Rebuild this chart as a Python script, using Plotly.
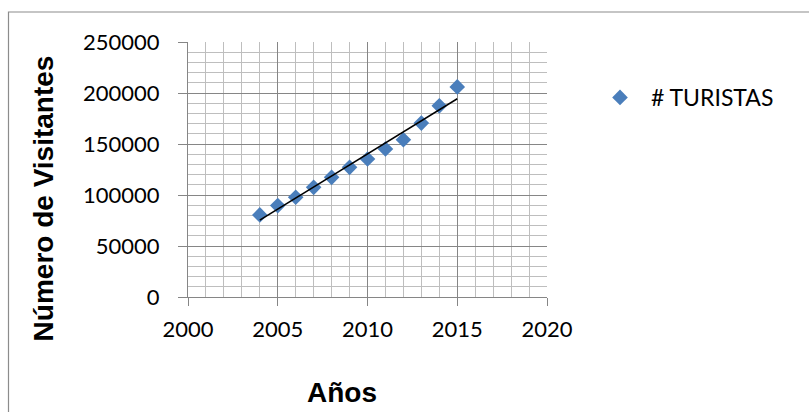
import numpy as np
import plotly.graph_objects as go

years = [2004, 2005, 2006, 2007, 2008, 2009, 2010, 2011, 2012, 2013, 2014, 2015]
turistas = [80500, 89600, 97800, 107500, 117300, 127100, 135300, 145100, 154200, 170500, 187400, 206000]
series_name = "# TURISTAS"
x_title = "Años"
y_title = "Número de Visitantes"

# linear trendline fitted from the data
slope, intercept = np.polyfit(years, turistas, 1)
trend_x = [years[0], years[-1]]
trend_y = [slope * x + intercept for x in trend_x]

W, H = 809, 412
L, R, T, B = 188, 262, 41.5, 115.3
pw, ph = W - L - R, H - T - B

def px(xp):
    return (xp - L) / pw

def py(yp):
    return (H - B - yp) / ph

fig = go.Figure()
fig.add_trace(go.Scatter(
    x=years, y=turistas, mode="markers", name=series_name,
    marker=dict(symbol="diamond", size=12, color="#4a7ebb"),
))
fig.add_trace(go.Scatter(
    x=trend_x, y=trend_y, mode="lines", showlegend=False,
    line=dict(color="black", width=1.5), hoverinfo="skip",
))

grid_major = "#868686"
grid_minor = "#bebebe"
tick_font = dict(family="Lato", size=22, color="black")

fig.update_layout(
    width=W, height=H,
    margin=dict(l=L, r=R, t=T, b=B),
    paper_bgcolor="white", plot_bgcolor="white",
    showlegend=True,
    legend=dict(
        x=px(589), y=py(97), xanchor="left", yanchor="middle",
        itemwidth=52,
        font=dict(family="Lato", size=23, color="black"),
        bgcolor="rgba(0,0,0,0)",
    ),
    xaxis=dict(
        range=[2000, 2020], dtick=5, tick0=2000,
        showgrid=True, gridcolor=grid_major, gridwidth=1,
        showline=True, linecolor=grid_major, linewidth=1,
        ticks="outside", ticklen=8, tickcolor=grid_major,
        tickfont=tick_font, ticklabelstandoff=5,
        zeroline=False,
        minor=dict(dtick=1, showgrid=True, gridcolor=grid_minor, gridwidth=1.4),
    ),
    yaxis=dict(
        range=[0, 250000], dtick=50000, tick0=0, tickformat="d",
        showgrid=True, gridcolor=grid_major, gridwidth=1,
        showline=True, linecolor=grid_major, linewidth=1,
        ticks="outside", ticklen=9, tickcolor=grid_major,
        tickfont=tick_font, ticklabelstandoff=14,
        zeroline=False,
        minor=dict(dtick=10000, showgrid=True, gridcolor=grid_minor, gridwidth=1.4),
    ),
    annotations=[
        dict(text=y_title, xref="paper", yref="paper", x=px(43), y=py(198),
             xanchor="center", yanchor="middle", textangle=-90, showarrow=False,
             font=dict(family="Liberation Sans", size=28, color="black", weight="bold")),
        dict(text=x_title, xref="paper", yref="paper", x=px(342), y=py(392),
             xanchor="center", yanchor="middle", showarrow=False,
             font=dict(family="Liberation Sans", size=28, color="black", weight="bold")),
    ],
    shapes=[
        dict(type="rect", xref="paper", yref="paper",
             x0=px(8.5), x1=px(830), y0=py(430), y1=py(11.5),
             line=dict(color="#8c8c8c", width=1.2), fillcolor="rgba(0,0,0,0)", layer="below"),
    ],
)

fig.write_html("out.html", config={"displayModeBar": False},
               post_script="document.body.style.margin='0';document.body.style.overflow='hidden';")
